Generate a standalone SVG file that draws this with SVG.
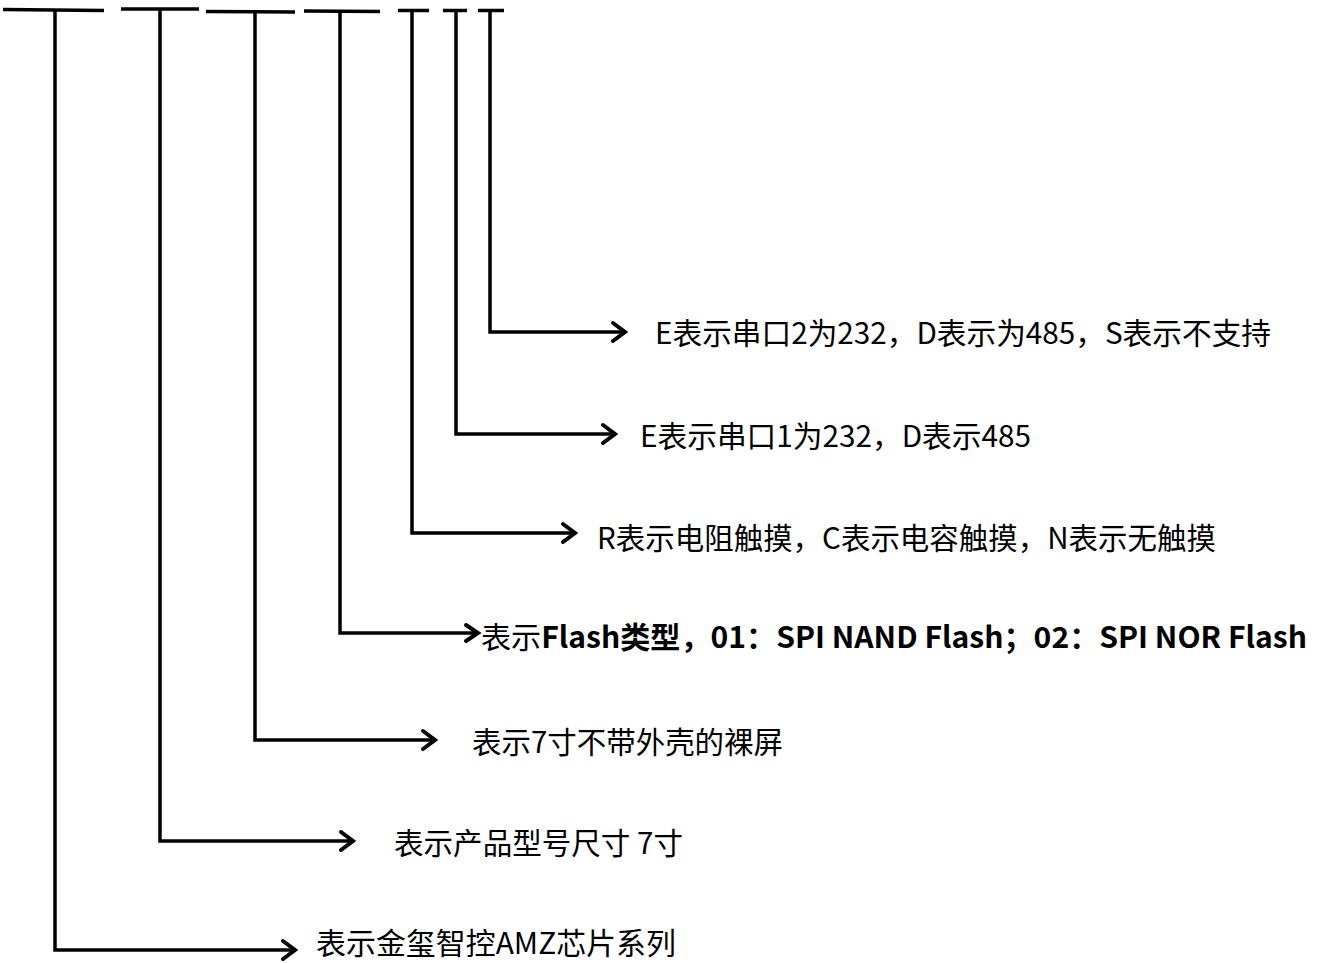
<svg xmlns="http://www.w3.org/2000/svg" width="1324" height="963" viewBox="0 0 1324 963">
<style>
.ln{fill:none;stroke:#000;stroke-width:3.5;stroke-linecap:butt;stroke-linejoin:miter}
.ah{fill:none;stroke:#000;stroke-width:4;stroke-linecap:round;stroke-linejoin:miter}
.bar{fill:none;stroke:#000;stroke-width:3.5}
.t{font-family:"Microsoft YaHei","Noto Sans CJK SC","Noto Sans",sans-serif;font-size:29.5px;fill:#000}
.b{font-weight:bold}
</style>
<rect width="1324" height="963" fill="#fff"/>
<g id="bars">
<line class="bar" x1="3" y1="9.5" x2="104" y2="10.5"/>
<line class="bar" x1="121" y1="9" x2="199" y2="9"/>
<line class="bar" x1="206" y1="11.5" x2="295" y2="12"/>
<line class="bar" x1="304" y1="11" x2="380" y2="11.5"/>
<line class="bar" x1="398" y1="10.5" x2="429" y2="10.5"/>
<line class="bar" x1="443" y1="10.5" x2="467" y2="10.5"/>
<line class="bar" x1="478" y1="10.5" x2="504" y2="10.5"/>
</g>
<g id="connectors">
<polyline class="ln" points="55,10 55,950 293,950"/>
<polyline class="ah" points="283,941 295,950 283,959"/>
<polyline class="ln" points="160,9 160,841 351,841"/>
<polyline class="ah" points="341,832 353,841 341,850"/>
<polyline class="ln" points="255,12 255,740 433,740"/>
<polyline class="ah" points="423,731 435,740 423,749"/>
<polyline class="ln" points="340,11 340,633 476,633"/>
<polyline class="ah" points="466,625 478,633 466,641"/>
<polyline class="ln" points="412,10 412,533 573,533"/>
<polyline class="ah" points="563,524 575,533 563,542"/>
<polyline class="ln" points="456,10 456,434 613,434"/>
<polyline class="ah" points="603,425 615,434 603,443"/>
<polyline class="ln" points="490,10 490,332 623,332"/>
<polyline class="ah" points="613,323 625,332 613,341"/>
</g>
<g id="n7"><text class="t" x="655" y="344" textLength="616" lengthAdjust="spacingAndGlyphs">E表示串口2为232，D表示为485，S表示不支持</text></g>
<g id="n6"><text class="t" x="640" y="447" textLength="391" lengthAdjust="spacingAndGlyphs">E表示串口1为232，D表示485</text></g>
<g id="n5"><text class="t" x="597" y="549" textLength="619" lengthAdjust="spacingAndGlyphs">R表示电阻触摸，C表示电容触摸，N表示无触摸</text></g>
<g id="n4"><text class="t" x="481" y="648" textLength="826" lengthAdjust="spacingAndGlyphs">表示<tspan class="b">Flash类型，01：SPI NAND Flash；02：SPI NOR Flash</tspan></text></g>
<g id="n3"><text class="t" x="472" y="753" textLength="311" lengthAdjust="spacingAndGlyphs">表示7寸不带外壳的裸屏</text></g>
<g id="n2"><text class="t" x="394" y="854" textLength="289" lengthAdjust="spacingAndGlyphs">表示产品型号尺寸 7寸</text></g>
<g id="n1"><text class="t" x="316" y="954" textLength="360" lengthAdjust="spacingAndGlyphs">表示金玺智控AMZ芯片系列</text></g>
</svg>
